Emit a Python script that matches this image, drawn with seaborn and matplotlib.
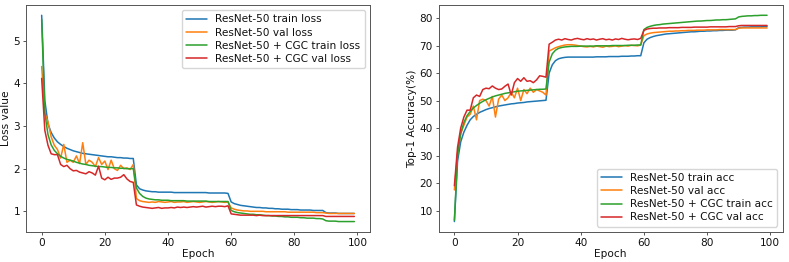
import numpy as np
import pandas as pd
import matplotlib
matplotlib.use("Agg")
import matplotlib.pyplot as plt
import seaborn as sns

epochs = list(range(100))

r50_train_loss = [5.60,3.60,3.05,2.85,2.72,2.63,2.57,2.52,2.48,2.45, 2.42,2.40,2.38,2.36,2.35,2.34,2.33,2.32,2.31,2.30,
                  2.29,2.28,2.28,2.27,2.26,2.26,2.25,2.25,2.24,2.24,
                  1.62,1.53,1.50,1.48,1.47,1.46,1.46,1.45,1.45,1.45, 1.45,1.45,1.44,1.44,1.44,1.44,1.44,1.44,1.44,1.44,
                  1.44,1.44,1.44,1.43,1.43,1.43,1.43,1.43,1.43,1.42,
                  1.22,1.18,1.16,1.14,1.13,1.12,1.11,1.10,1.09,1.09, 1.08,1.08,1.07,1.07,1.06,1.06,1.05,1.05,1.05,1.04,
                  1.04,1.04,1.03,1.03,1.03,1.03,1.02,1.02,1.02,1.02,
                  0.97,0.96,0.96,0.96,0.95,0.95,0.95,0.95,0.95,0.95]
r50_val_loss = [4.40,3.30,3.10,2.75,2.55,2.45,2.25,2.57,2.15,2.20, 2.15,2.30,2.12,2.61,2.10,2.20,2.15,2.05,2.26,2.10,
                2.18,1.98,2.20,2.00,1.96,2.08,2.00,2.02,1.98,2.10,
                1.30,1.25,1.23,1.22,1.21,1.22,1.21,1.23,1.22,1.21, 1.22,1.23,1.21,1.22,1.22,1.23,1.21,1.22,1.23,1.22,
                1.21,1.22,1.23,1.22,1.21,1.22,1.23,1.22,1.21,1.22,
                1.08,1.05,1.03,1.02,1.01,1.01,1.00,1.00,1.00,1.00, 1.00,0.99,0.99,0.99,0.99,0.99,0.99,0.99,0.98,0.98,
                0.98,0.98,0.98,0.98,0.98,0.98,0.98,0.97,0.97,0.97,
                0.96,0.95,0.95,0.95,0.95,0.95,0.95,0.95,0.95,0.95]
cgc_train_loss = [5.50,3.30,2.80,2.56,2.43,2.35,2.29,2.25,2.22,2.20, 2.18,2.15,2.13,2.11,2.10,2.08,2.07,2.06,2.05,2.05,
                  2.04,2.03,2.03,2.02,2.02,2.01,2.01,2.00,2.00,2.00,
                  1.55,1.42,1.35,1.31,1.29,1.28,1.27,1.27,1.26,1.26, 1.26,1.25,1.25,1.25,1.25,1.25,1.24,1.24,1.24,1.24,
                  1.24,1.24,1.24,1.23,1.23,1.23,1.23,1.23,1.23,1.23,
                  1.02,0.99,0.97,0.96,0.95,0.94,0.93,0.93,0.92,0.92, 0.91,0.90,0.90,0.89,0.89,0.88,0.88,0.87,0.87,0.86,
                  0.86,0.86,0.85,0.85,0.84,0.84,0.84,0.83,0.83,0.82,
                  0.78,0.77,0.77,0.77,0.76,0.76,0.76,0.76,0.76,0.76]
cgc_val_loss = [4.12,2.90,2.55,2.35,2.33,2.33,2.10,2.05,2.08,2.00, 1.95,1.96,1.92,1.90,1.88,1.93,1.90,1.85,2.06,1.78,
                1.74,1.80,1.75,1.78,1.78,1.80,1.86,1.76,1.70,1.68,
                1.15,1.12,1.10,1.09,1.08,1.07,1.08,1.09,1.07,1.08, 1.08,1.09,1.08,1.10,1.09,1.10,1.09,1.10,1.11,1.10,
                1.11,1.12,1.10,1.11,1.12,1.11,1.12,1.12,1.11,1.13,
                0.94,0.93,0.92,0.91,0.91,0.91,0.91,0.91,0.90,0.91, 0.90,0.90,0.90,0.90,0.90,0.90,0.90,0.90,0.90,0.90,
                0.90,0.90,0.90,0.90,0.90,0.90,0.90,0.90,0.90,0.90,
                0.88,0.88,0.88,0.88,0.88,0.88,0.88,0.88,0.88,0.88]

r50_train_acc = [6.0,28.0,35.0,38.5,41.0,43.0,44.2,45.0,45.7,46.2, 46.7,47.1,47.4,47.7,48.0,48.2,48.4,48.6,48.8,48.9,
                 49.1,49.2,49.3,49.5,49.6,49.7,49.8,49.9,50.0,50.1,
                 60.0,63.0,64.5,65.2,65.5,65.7,65.8,65.8,65.8,65.8, 65.8,65.8,65.8,65.8,65.8,65.9,65.9,65.9,65.9,66.0,
                 66.0,66.0,66.0,66.1,66.1,66.1,66.2,66.2,66.3,66.3,
                 71.0,72.3,72.9,73.3,73.6,73.8,74.0,74.2,74.3,74.4, 74.5,74.6,74.7,74.8,74.9,75.0,75.0,75.1,75.2,75.2,
                 75.3,75.3,75.4,75.4,75.5,75.5,75.6,75.6,75.6,75.7,
                 76.5,76.6,76.7,76.7,76.8,76.8,76.8,76.8,76.9,76.9]
r50_val_acc = [17.5,31.0,38.0,41.0,44.0,45.0,48.0,43.0,50.0,50.5, 50.0,48.0,51.5,44.0,50.5,52.0,50.0,51.0,53.0,51.0,
               54.5,50.0,54.0,52.5,54.5,53.0,54.0,53.5,53.0,52.0,
               68.0,68.6,69.2,69.6,69.9,70.2,70.3,70.3,70.2,70.0, 69.8,69.6,69.5,69.7,69.5,69.8,69.6,69.4,69.8,69.6,
               69.7,69.9,69.6,69.8,70.0,69.8,70.1,70.0,69.9,70.2,
               73.6,74.2,74.5,74.7,74.8,74.9,75.0,75.1,75.2,75.2, 75.3,75.3,75.4,75.4,75.5,75.5,75.5,75.6,75.6,75.6,
               75.7,75.7,75.7,75.7,75.8,75.8,75.8,75.8,75.8,75.8,
               76.3,76.4,76.4,76.4,76.4,76.4,76.4,76.4,76.4,76.4]
cgc_train_acc = [6.5,30.0,38.0,42.0,44.5,46.0,47.3,48.2,49.0,49.7, 50.3,50.8,51.3,51.7,52.0,52.3,52.6,52.8,53.0,53.2,
                 53.4,53.5,53.6,53.7,53.8,53.9,54.0,54.1,54.1,54.2,
                 64.0,67.0,68.3,69.0,69.3,69.5,69.6,69.7,69.7,69.7, 69.8,69.8,69.8,69.8,69.8,69.9,69.9,69.9,69.9,69.9,
                 70.0,70.0,70.0,70.0,70.0,70.1,70.1,70.1,70.2,70.2,
                 75.8,76.6,77.0,77.3,77.5,77.6,77.8,77.9,78.0,78.1, 78.2,78.3,78.4,78.5,78.6,78.7,78.8,78.9,78.9,79.0,
                 79.1,79.1,79.2,79.3,79.3,79.4,79.4,79.5,79.6,79.7,
                 80.4,80.6,80.7,80.8,80.8,80.9,80.9,81.0,81.0,81.0]
cgc_val_acc = [19.0,33.0,40.0,44.0,46.5,46.5,51.0,52.0,51.5,54.0, 54.5,54.3,55.3,54.5,54.0,54.2,55.2,56.0,52.0,56.5,
               58.0,57.0,58.3,57.0,57.2,56.5,57.5,59.0,58.8,58.5,
               70.5,71.2,72.0,72.3,72.0,72.5,72.2,72.0,72.4,72.6, 72.3,72.1,72.5,72.2,72.4,72.0,72.3,72.5,72.1,72.3,
               72.0,72.4,72.2,72.6,72.3,72.1,72.3,72.4,72.2,72.6,
               75.5,76.0,76.2,76.3,76.3,76.4,76.4,76.4,76.5,76.5, 76.5,76.5,76.6,76.6,76.6,76.6,76.7,76.7,76.7,76.7,
               76.7,76.8,76.8,76.8,76.8,76.8,76.8,76.9,76.9,76.9,
               77.2,77.3,77.3,77.3,77.3,77.3,77.3,77.3,77.3,77.3]

loss_labels = ["ResNet-50 train loss", "ResNet-50 val loss",
               "ResNet-50 + CGC train loss", "ResNet-50 + CGC val loss"]
acc_labels = ["ResNet-50 train acc", "ResNet-50 val acc",
              "ResNet-50 + CGC train acc", "ResNet-50 + CGC val acc"]
colors = ["#1f77b4", "#ff7f0e", "#2ca02c", "#d62728"]

sns.set_style("white")
plt.rcParams["font.family"] = ["DejaVu Sans"]
FS = 7.6
plt.rcParams.update({
    "font.size": FS,
    "text.color": "#111111",
    "axes.labelcolor": "#111111",
    "axes.edgecolor": "#555555",
    "axes.linewidth": 0.7,
    "xtick.bottom": True, "ytick.left": True,
    "xtick.major.size": 2.2, "ytick.major.size": 2.2,
    "xtick.major.width": 0.5, "ytick.major.width": 0.5,
    "xtick.color": "#111111", "ytick.color": "#111111",
    "legend.fontsize": FS,
})

fig, axes = plt.subplots(1, 2, figsize=(7.89, 2.62), dpi=100)
fig.subplots_adjust(left=0.033, right=0.992, bottom=0.115, top=0.981, wspace=0.2)

loss_series = [r50_train_loss, r50_val_loss, cgc_train_loss, cgc_val_loss]
acc_series = [r50_train_acc, r50_val_acc, cgc_train_acc, cgc_val_acc]

LW = 1.1
ax = axes[0]
for vals, lab, c in zip(loss_series, loss_labels, colors):
    sns.lineplot(x=epochs, y=vals, ax=ax, label=lab, color=c, linewidth=LW)
ax.set_xlabel("Epoch", fontsize=FS, labelpad=1)
ax.set_ylabel("Loss value", fontsize=FS, labelpad=2)
ax.set_xticks([0, 20, 40, 60, 80, 100])
ax.set_yticks([1, 2, 3, 4, 5])
ax.tick_params(labelsize=FS, pad=2)
ax.legend(loc="upper right", fontsize=FS, handlelength=2, borderpad=0.4, labelspacing=0.3)

ax = axes[1]
for vals, lab, c in zip(acc_series, acc_labels, colors):
    sns.lineplot(x=epochs, y=vals, ax=ax, label=lab, color=c, linewidth=LW)
ax.set_xlabel("Epoch", fontsize=FS, labelpad=1)
ax.set_ylabel("Top-1 Accuracy(%)", fontsize=FS, labelpad=2)
ax.set_xticks([0, 20, 40, 60, 80, 100])
ax.set_yticks([10, 20, 30, 40, 50, 60, 70, 80])
ax.tick_params(labelsize=FS, pad=2)
ax.legend(loc="lower right", fontsize=FS, handlelength=2, borderpad=0.4, labelspacing=0.3)

fig.savefig("out.png", dpi=100)
